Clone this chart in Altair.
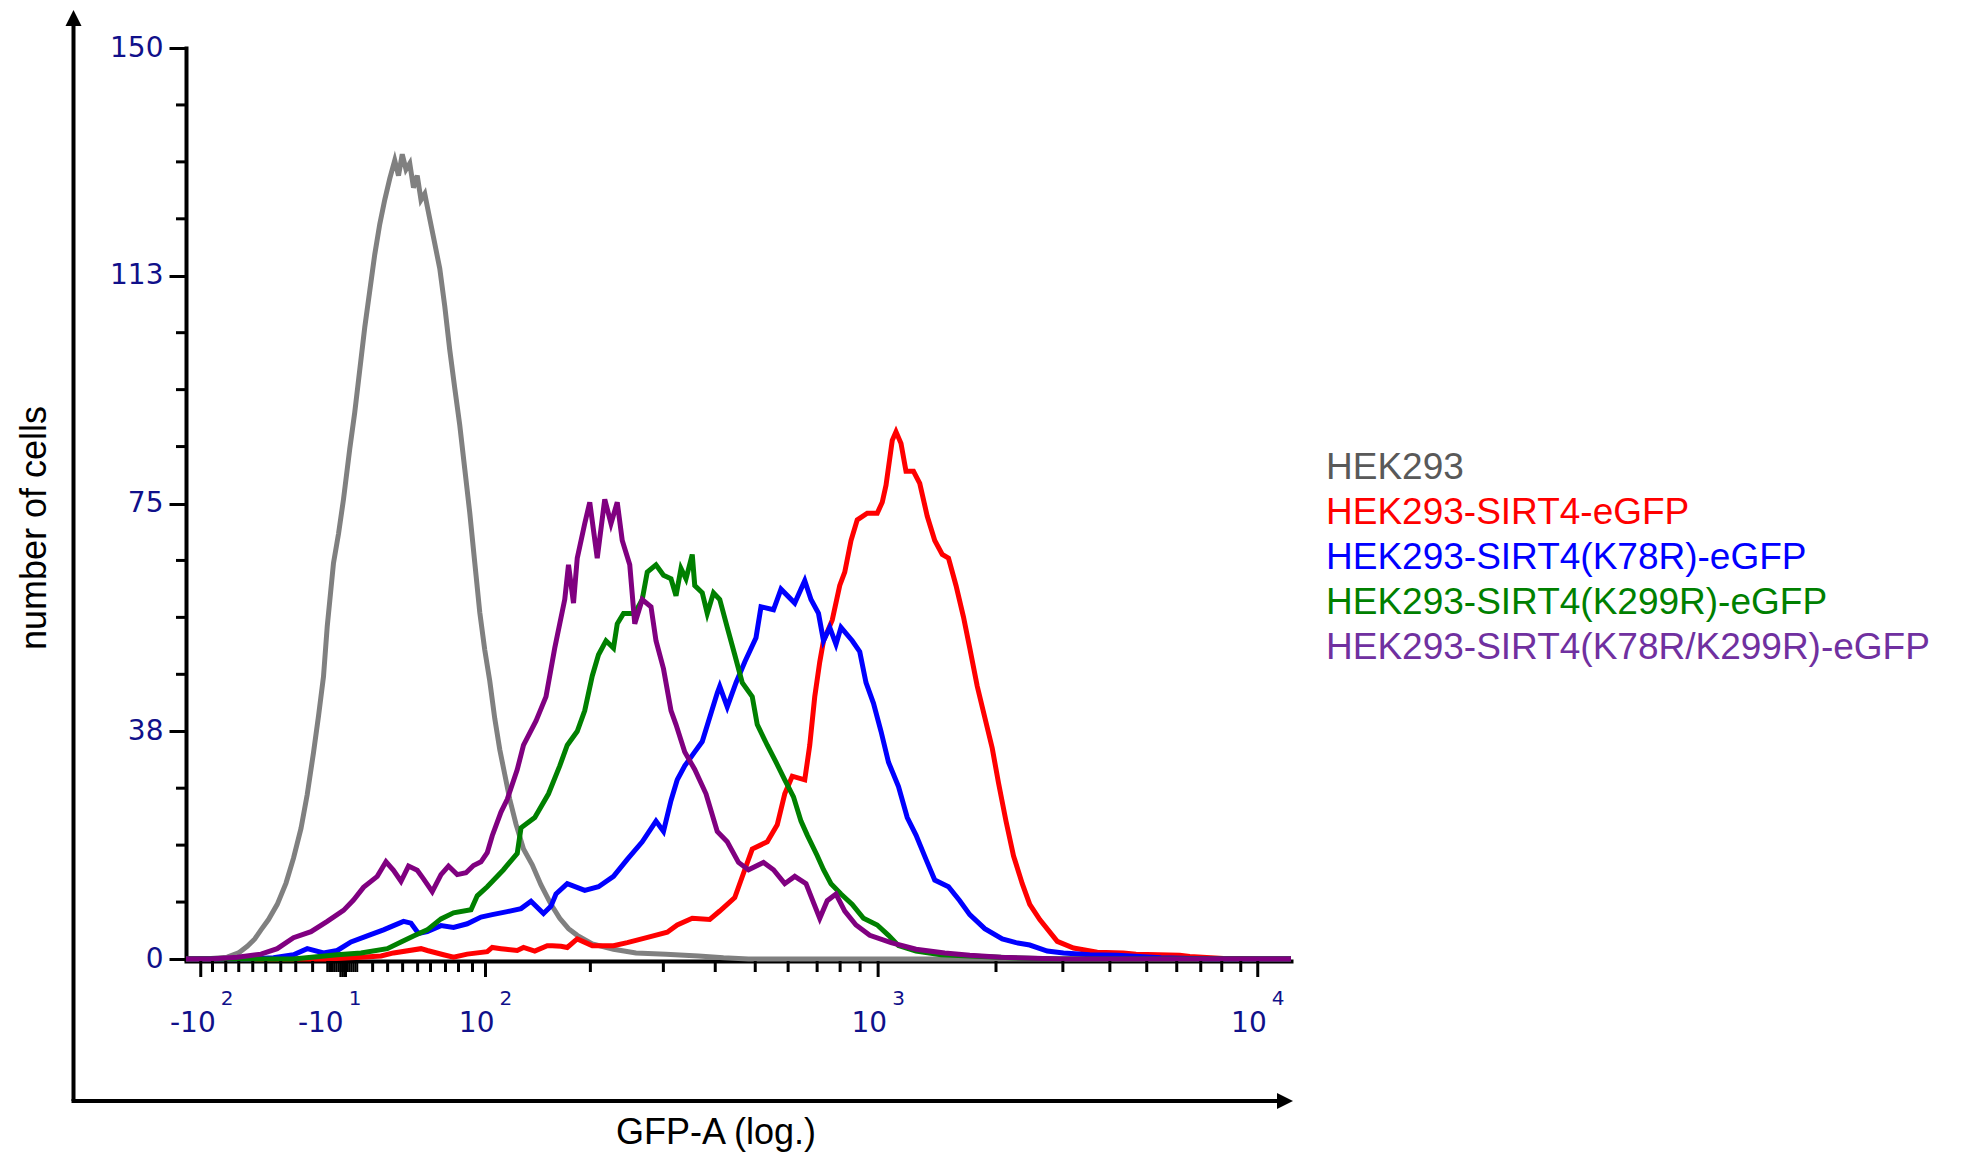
import altair as alt
import pandas as pd

# ---------------- data (x = display channel along the biexponential GFP-A axis, y = number of cells)
SERIES = ["HEK293", "HEK293-SIRT4-eGFP", "HEK293-SIRT4(K78R)-eGFP",
          "HEK293-SIRT4(K299R)-eGFP", "HEK293-SIRT4(K78R/K299R)-eGFP"]
LINE_COLORS = ["#808080", "#ff0000", "#0000ff", "#008000", "#800080"]
TEXT_COLORS = ["#595959", "#ff0000", "#0000ff", "#008000", "#7030a0"]

GRAY_X = [0, 20, 33, 42, 49, 55, 60, 66, 73, 80, 86, 92, 97, 102, 106, 110, 113, 118, 122, 126,
          131, 135, 139, 143, 147, 151, 155, 159, 163, 167, 170, 173, 176, 179, 182, 185, 188, 191,
          195, 199, 203, 207, 211, 215, 219, 223, 227, 231, 235, 239, 243, 247, 251, 255, 259, 264,
          270, 277, 284, 292, 299, 306, 313, 325, 342, 360, 384, 410, 430, 450, 884]
GRAY_Y = [0, 0.1, 0.3, 1.0, 2.1, 3.3, 4.8, 6.5, 9.0, 12.5, 16.6, 21.5, 27.1, 34.0, 40.0, 46.5, 54.8,
          65.2, 70.0, 75.7, 84.0, 90.0, 97.0, 104.0, 110.0, 116.0, 121.0, 125.0, 128.5, 131.5, 129.0,
          132.5, 130.0, 131.0, 127.0, 129.0, 125.0, 126.0, 121.9, 117.8, 113.7, 107.5, 100.3, 94.0,
          87.9, 80.7, 73.5, 65.3, 57.1, 50.9, 45.8, 39.6, 34.5, 30.4, 26.3, 22.2, 18.1, 15.5, 12.2,
          9.0, 6.7, 5.0, 3.9, 2.5, 1.6, 1.0, 0.8, 0.5, 0.2, 0, 0]

RED_X = [0, 113, 140, 156, 166, 188, 193, 206, 214, 225, 241, 245, 252, 256, 265, 270, 279, 289, 293,
         300, 305, 313, 325, 342, 353, 370, 385, 393, 405, 419, 427, 439, 447, 453, 465, 473, 479, 485,
         495, 499, 503, 507, 510, 517, 523, 527, 532, 537, 545, 553, 557, 560, 565, 568, 572, 576, 582,
         587, 593, 599, 605, 610, 616, 622, 627, 633, 639, 645, 650, 656, 662, 669, 675, 683, 697, 710,
         729, 750, 760, 795, 803, 830, 860, 884]
RED_Y = [0, 0, 0.3, 0.5, 1.0, 1.7, 1.4, 0.7, 0.3, 0.8, 1.2, 1.9, 1.7, 1.6, 1.4, 1.9, 1.3, 2.2, 2.2,
         2.1, 1.9, 3.3, 2.2, 2.2, 2.7, 3.6, 4.4, 5.6, 6.7, 6.5, 7.9, 10.1, 14.7, 18.1, 19.3, 22.1, 27.2,
         30.1, 29.5, 35.2, 43.2, 48.9, 52.4, 55.8, 61.5, 63.7, 68.9, 72.3, 73.4, 73.4, 75.2, 78.0, 85.4,
         86.8, 84.9, 80.3, 80.3, 78.3, 72.9, 68.9, 66.6, 66.0, 61.5, 56.3, 51.2, 44.9, 39.8, 34.7, 29.0,
         22.7, 17.0, 12.4, 9.0, 6.5, 2.9, 1.8, 1.1, 1.0, 0.8, 0.6, 0.4, 0.1, 0, 0]

BLUE_X = [0, 50, 70, 86, 97, 110, 121, 132, 145, 158, 166, 174, 180, 186, 193, 204, 214, 225, 236,
          245, 257, 268, 276, 286, 292, 296, 305, 319, 330, 342, 353, 365, 376, 382, 388, 393, 399,
          407, 413, 419, 425, 427, 433, 440, 447, 456, 460, 470, 476, 487, 495, 500, 506, 510, 515,
          520, 524, 533, 539, 544, 550, 556, 562, 570, 577, 584, 592, 599, 610, 619, 627, 639, 653,
          664, 675, 689, 702, 723, 745, 780, 820, 884]
BLUE_Y = [0, 0, 0.2, 0.7, 1.7, 1.0, 1.4, 2.8, 3.8, 4.8, 5.5, 6.2, 5.9, 4.2, 4.5, 5.5, 5.2, 5.8, 6.9,
          7.3, 7.8, 8.3, 9.5, 7.5, 8.7, 10.7, 12.4, 11.3, 11.9, 13.6, 16.4, 19.3, 22.7, 21.0, 26.1,
          29.5, 31.8, 34.1, 35.8, 39.8, 43.8, 44.9, 41.5, 45.5, 48.9, 52.9, 58.0, 57.5, 60.9, 58.6,
          62.3, 59.2, 56.9, 52.4, 54.6, 51.8, 54.6, 52.4, 50.6, 45.5, 42.1, 37.5, 32.4, 28.4, 23.3,
          20.4, 16.4, 13.0, 11.9, 9.6, 7.3, 5.0, 3.3, 2.7, 2.3, 1.3, 1.0, 0.7, 0.6, 0.2, 0, 0]

GREEN_X = [0, 86, 121, 140, 161, 172, 182, 193, 204, 214, 228, 233, 241, 254, 265, 268, 279, 290,
           299, 305, 313, 319, 325, 330, 336, 342, 345, 350, 359, 365, 369, 376, 382, 388, 392, 396,
           400, 405, 407, 413, 417, 422, 427, 433, 439, 445, 453, 457, 465, 472, 479, 486, 492, 497,
           505, 510, 516, 524, 533, 542, 553, 562, 570, 584, 604, 627, 660, 700, 884]
GREEN_Y = [0, 0, 0.7, 1.0, 1.7, 2.8, 3.8, 4.8, 6.6, 7.6, 8.1, 10.4, 11.9, 14.7, 17.4, 21.6, 23.3,
           27.2, 31.8, 35.2, 37.5, 40.9, 46.6, 50.1, 52.4, 51.2, 55.2, 56.9, 56.9, 59.2, 63.7, 64.9,
           63.2, 62.6, 59.8, 64.3, 62.6, 66.6, 61.5, 60.3, 56.9, 60.3, 59.2, 54.6, 50.1, 45.5, 43.2,
           38.6, 35.2, 32.4, 29.5, 26.7, 22.7, 20.4, 17.0, 14.7, 12.4, 10.7, 9.0, 6.7, 5.6, 3.9, 2.2,
           1.3, 0.7, 0.5, 0.2, 0, 0]

PURPLE_X = [0, 20, 41, 60, 73, 86, 100, 113, 126, 134, 142, 153, 160, 166, 172, 178, 185, 190, 197,
            204, 210, 217, 224, 230, 236, 241, 245, 252, 257, 265, 270, 280, 288, 295, 303, 306, 310,
            313, 319, 323, 329, 335, 340, 345, 349, 355, 359, 365, 372, 376, 382, 388, 392, 399, 407,
            416, 425, 433, 442, 450, 462, 470, 479, 487, 496, 507, 513, 520, 527, 536, 547, 564, 584,
            607, 627, 652, 700, 884]
PURPLE_Y = [0, 0, 0.3, 0.8, 1.7, 3.5, 4.5, 6.2, 8.0, 9.7, 11.8, 13.6, 16.0, 14.6, 12.8, 15.3, 14.6,
            13.2, 11.1, 13.9, 15.3, 13.9, 14.2, 15.4, 16.0, 17.5, 20.3, 24.2, 26.3, 31.2, 35.2, 39.2,
            43.2, 51.2, 59.2, 64.9, 58.6, 66.0, 71.7, 75.2, 66.0, 75.7, 71.7, 75.2, 68.9, 64.9, 55.2,
            59.2, 58.0, 52.4, 47.8, 40.9, 38.6, 34.1, 31.2, 27.2, 21.0, 19.3, 15.9, 14.7, 15.9, 14.7,
            12.4, 13.6, 12.4, 6.7, 9.6, 10.7, 7.9, 5.6, 3.9, 2.7, 1.6, 1.0, 0.6, 0.3, 0, 0]

SERIES_X = [GRAY_X, RED_X, BLUE_X, GREEN_X, PURPLE_X]
SERIES_Y = [GRAY_Y, RED_Y, BLUE_Y, GREEN_Y, PURPLE_Y]

# axis ticks (display channel positions) and labels
X_MAJOR = [11.8, 239.6, 553.7, 857.4]
X_CLUSTER_LONG = [123.5, 125, 126.5, 128]
X_MINOR = [21.2, 31.8, 42.2, 53.4, 63.8, 75.8, 87.8, 101.3,
           149.3, 161.3, 173.3, 185.3, 195.6, 207.6, 218, 229.2,
           323.5, 381.9, 423.4, 455.4, 481.7, 504.9, 523.3, 539.3,
           648, 701.5, 739.1, 768.6, 792.6, 811.8, 828.6, 843.8]
X_CLUSTER = [113, 114.5, 116, 117.5, 119, 120.5, 122, 123.5, 125, 126.5, 128, 129.5, 131,
             132.5, 134, 135.5, 137]
X_NEG_LABEL_POS = [11.8, 114.1]
X_NEG_LABEL_BASE = ["-10", "-10"]
X_NEG_LABEL_EXP = ["2", "1"]
X_POS_LABEL_POS = [239.6, 553.7, 857.4]
X_POS_LABEL_BASE = ["10", "10", "10"]
X_POS_LABEL_EXP = ["2", "3", "4"]

Y_MAJOR = [0, 37.5, 75, 112.5, 150]
Y_LABELS = ["0", "38", "75", "113", "150"]
Y_MINOR = [9.375, 18.75, 28.125, 46.875, 56.25, 65.625, 84.375, 93.75, 103.125,
           121.875, 131.25, 140.625]

X_TITLE = "GFP-A (log.)"
Y_TITLE = "number of cells"

# ---------------- style
W, H = 1105, 911
NAVY = "#10108a"
TICK_FONT = "DejaVu Sans"
TXT_FONT = "Liberation Sans"

XS = alt.Scale(domain=[0, 884], nice=False, zero=False)
YS = alt.Scale(domain=[0, 150], nice=False, zero=False)

label_expr = " : ".join(
    f"datum.value == {v} ? '{t}'" for v, t in zip(Y_MAJOR, Y_LABELS)) + " : ''"

X_AXIS = alt.Axis(title=None, labels=False, ticks=False, grid=False, domain=True,
                  domainColor="black", domainWidth=4, domainCap="square", offset=2)
Y_AXIS = alt.Axis(title=None, values=Y_MAJOR, labelExpr=label_expr, grid=False,
                  domain=True, domainColor="black", domainWidth=4, domainCap="square",
                  ticks=True, tickSize=17, tickWidth=3, tickColor="black",
                  labelFont=TICK_FONT, labelFontSize=28, labelColor=NAVY, labelPadding=6,
                  labelOverlap=False, labelFlush=False)

layers = []

# histogram lines
for i, name in enumerate(SERIES):
    df = pd.DataFrame({"ch": SERIES_X[i], "cells": SERIES_Y[i]})
    layers.append(
        alt.Chart(df).mark_line(strokeWidth=5, color=LINE_COLORS[i], strokeJoin="miter")
        .encode(x=alt.X("ch:Q", scale=XS, axis=X_AXIS),
                y=alt.Y("cells:Q", scale=YS, axis=Y_AXIS))
    )

# x-axis ticks
def xtick_layer(vals, length, width=3):
    return alt.Chart(pd.DataFrame({"ch": vals})).mark_rule(color="black", strokeWidth=width).encode(
        x=alt.X("ch:Q", scale=XS, axis=X_AXIS),
        y=alt.value(H + 2), y2=alt.value(H + 2 + length))

layers.append(xtick_layer(X_MINOR, 11))
layers.append(xtick_layer(X_CLUSTER, 11, 2))
layers.append(xtick_layer(X_MAJOR, 16))
layers.append(xtick_layer(X_CLUSTER_LONG, 16, 2))

# y-axis minor ticks
layers.append(
    alt.Chart(pd.DataFrame({"v": Y_MINOR})).mark_rule(color="black", strokeWidth=3).encode(
        y=alt.Y("v:Q", scale=YS, axis=Y_AXIS), x=alt.value(-10), x2=alt.value(0))
)

# x tick labels (base + exponent)
def label_layers(pos, base, exp, dx_base, dx_exp):
    df = pd.DataFrame({"pos": pos, "base": base, "exp": exp})
    b = alt.Chart(df).mark_text(font=TICK_FONT, fontSize=28, color=NAVY, align="right",
                                baseline="alphabetic", dx=dx_base).encode(
        x=alt.X("pos:Q", scale=XS, axis=X_AXIS), y=alt.value(984), text="base:N")
    e = alt.Chart(df).mark_text(font=TICK_FONT, fontSize=20, color=NAVY, align="left",
                                baseline="alphabetic", dx=dx_exp).encode(
        x=alt.X("pos:Q", scale=XS, axis=X_AXIS), y=alt.value(957), text="exp:N")
    return [b, e]

layers += label_layers(X_NEG_LABEL_POS, X_NEG_LABEL_BASE, X_NEG_LABEL_EXP, 15, 20)
layers += label_layers(X_POS_LABEL_POS, X_POS_LABEL_BASE, X_POS_LABEL_EXP, 9, 14)

# axis titles
one = pd.DataFrame({"t": [0]})
layers.append(alt.Chart(one).mark_text(font=TXT_FONT, fontSize=36, color="black", angle=270,
                                       align="center", baseline="alphabetic").encode(
    x=alt.value(-140), y=alt.value(480), text=alt.value(Y_TITLE)))
layers.append(alt.Chart(one).mark_text(font=TXT_FONT, fontSize=36, color="black",
                                       align="center", baseline="alphabetic").encode(
    x=alt.value(530), y=alt.value(1096), text=alt.value(X_TITLE)))

# outer arrows
layers.append(alt.Chart(one).mark_rule(color="black", strokeWidth=4).encode(
    x=alt.value(-112.5), y=alt.value(1053), y2=alt.value(-28)))
layers.append(alt.Chart(one).mark_rule(color="black", strokeWidth=4).encode(
    x=alt.value(-114.5), x2=alt.value(1097), y=alt.value(1053)))
layers.append(alt.Chart(one).mark_point(shape="M0,-1L1,1L-1,1Z", filled=True, color="black",
                                        size=256, opacity=1, strokeWidth=0).encode(
    x=alt.value(-112.5), y=alt.value(-30)))
layers.append(alt.Chart(one).mark_point(shape="M-1,-1L1,0L-1,1Z", filled=True, color="black",
                                        size=256, opacity=1, strokeWidth=0).encode(
    x=alt.value(1099), y=alt.value(1053)))

# legend (coloured text)
for i, name in enumerate(SERIES):
    layers.append(alt.Chart(one).mark_text(font=TXT_FONT, fontSize=37, color=TEXT_COLORS[i],
                                           align="left", baseline="alphabetic").encode(
        x=alt.value(1140), y=alt.value(431 + 45 * i), text=alt.value(name)))

chart = alt.layer(*layers).properties(
    width=W, height=H,
    autosize=alt.AutoSizeParams(type="none"),
    padding={"left": 178, "top": 40, "right": 655, "bottom": 195},
).configure_view(stroke=None)

chart.save("out.html", embed_options={"renderer": "svg", "actions": False})
